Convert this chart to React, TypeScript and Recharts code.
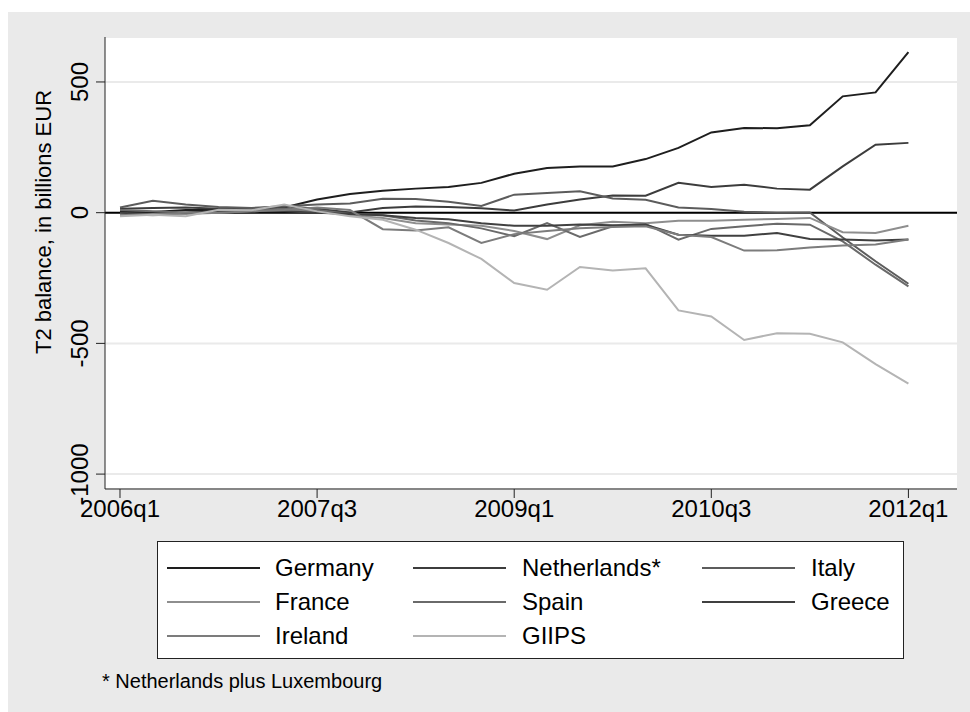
import React from "react";
import { LineChart, Line, XAxis, YAxis, CartesianGrid, ReferenceLine } from "recharts";

const quarters = [
  "2006q1","2006q2","2006q3","2006q4",
  "2007q1","2007q2","2007q3","2007q4",
  "2008q1","2008q2","2008q3","2008q4",
  "2009q1","2009q2","2009q3","2009q4",
  "2010q1","2010q2","2010q3","2010q4",
  "2011q1","2011q2","2011q3","2011q4",
  "2012q1",
];
const xTickIndex = [0, 6, 12, 18, 24];
const yTicks = [-1000, -500, 0, 500];

const germany = [5, 3, 10, 10, 12, 20, 50, 71, 84, 92, 98, 114, 149, 171, 177, 177, 205, 248, 307, 324, 323, 334, 445, 460, 614];
const netherlands = [15, 18, 20, 15, 15, 25, 15, 1, 18, 24, 22, 17, 8, 31, 50, 66, 65, 114, 98, 107, 92, 88, 177, 260, 267];
const italy = [20, 46, 31, 22, 18, 25, 31, 35, 53, 52, 42, 26, 69, 75, 82, 54, 49, 20, 14, 4, 0, 1, -95, -186, -272];
const france = [-5, -10, -5, 0, 5, 10, 5, -10, -20, -40, -45, -50, -70, -101, -48, -35, -40, -31, -31, -27, -24, -20, -75, -78, -50];
const spain = [10, 5, 0, 5, 10, 15, 10, -5, -10, -30, -40, -60, -90, -40, -93, -52, -43, -103, -62, -52, -42, -46, -110, -199, -282];
const greece = [0, -5, 0, 5, 5, 5, 0, -5, -10, -20, -25, -40, -50, -50, -45, -48, -46, -84, -88, -88, -78, -101, -103, -106, -103];
const ireland = [-10, -5, 0, 0, 5, 10, 20, 10, -63, -68, -56, -116, -82, -70, -60, -55, -52, -84, -93, -145, -144, -133, -126, -122, -103];
const giips = [-14, -8, -14, 11, 9, 31, 5, -14, -27, -65, -116, -177, -269, -295, -208, -221, -213, -374, -397, -487, -461, -463, -496, -579, -654];

const seriesNames = ["Germany", "Netherlands*", "Italy", "France", "Spain", "Greece", "Ireland", "GIIPS"];
const seriesValues = [germany, netherlands, italy, france, spain, greece, ireland, giips];
const seriesColors = ["#1e1e1e", "#3c3c3c", "#5c5c5c", "#8e8e8e", "#6a6a6a", "#404040", "#7c7c7c", "#b4b4b4"];

const data = quarters.map((q, i) => {
  const row: Record<string, number | string> = { i, q };
  seriesNames.forEach((n, k) => {
    row[n] = seriesValues[k][i];
  });
  return row;
});

const FONT = "'Liberation Sans', Arial, Helvetica, sans-serif";

const YTick = (props: any) => {
  const { x, y, payload } = props;
  const tx = x + 2;
  return (
    <text
      x={tx}
      y={y}
      transform={`rotate(-90, ${tx}, ${y})`}
      textAnchor="middle"
      fontSize={24}
      fontFamily={FONT}
      fill="#000"
    >
      {payload.value}
    </text>
  );
};

const XTick = (props: any) => {
  const { x, y, payload } = props;
  return (
    <text x={x} y={y + 17} textAnchor="middle" fontSize={24} fontFamily={FONT} fill="#000">
      {quarters[payload.value]}
    </text>
  );
};

const YLabel = () => {
  const cx = 51;
  const cy = 222;
  return (
    <text
      x={cx}
      y={cy}
      transform={`rotate(-90, ${cx}, ${cy})`}
      textAnchor="middle"
      fontSize={22}
      fontFamily={FONT}
      fill="#000"
    >
      T2 balance, in billions EUR
    </text>
  );
};

const legendCols = [
  { lineX: 167, textX: 275 },
  { lineX: 413, textX: 522 },
  { lineX: 702, textX: 811 },
];

export default function App() {
  return (
    <div style={{ position: "absolute", left: 0, top: 0, width: 970, height: 712, background: "#fff", fontFamily: FONT }}>
      <div style={{ position: "absolute", left: 8, top: 12, width: 962, height: 700, background: "#eaeaea" }} />
      <div style={{ position: "absolute", left: 0, top: 0 }}>
        <LineChart width={970} height={712} data={data} margin={{ top: 37, right: 13, bottom: 183, left: 0 }}>
          <CartesianGrid horizontal={true} vertical={false} stroke="#eaeaea" strokeWidth={2} fill="#ffffff" />
          <XAxis
            type="number"
            dataKey="i"
            domain={[-0.4566, 25.479]}
            ticks={xTickIndex}
            allowDataOverflow
            height={40}
            tickSize={9}
            tick={<XTick />}
            stroke="#222"
            tickLine={{ stroke: "#222" }}
          />
          <YAxis
            type="number"
            domain={[-1057, 672]}
            ticks={yTicks}
            allowDataOverflow
            width={105}
            tickSize={9}
            tickMargin={10}
            tick={<YTick />}
            stroke="#222"
            tickLine={{ stroke: "#222" }}
            label={<YLabel />}
          />
          <ReferenceLine y={0} stroke="#000" strokeWidth={2} />
          {seriesNames.map((n, k) => (
            <Line
              key={n}
              type="linear"
              dataKey={n}
              stroke={seriesColors[k]}
              strokeWidth={2}
              dot={false}
              activeDot={false}
              isAnimationActive={false}
            />
          ))}
        </LineChart>
      </div>
      <div
        style={{
          position: "absolute",
          left: 157,
          top: 541,
          width: 747,
          height: 118,
          boxSizing: "border-box",
          background: "#fff",
          border: "1px solid #222",
        }}
      />
      {seriesNames.map((n, k) => {
        const col = legendCols[k % 3];
        const row = Math.floor(k / 3);
        const cy = 568 + row * 34;
        return (
          <React.Fragment key={n}>
            <div style={{ position: "absolute", left: col.lineX, top: cy - 1, width: 93, height: 2, background: seriesColors[k] }} />
            <div
              style={{
                position: "absolute",
                left: col.textX,
                top: cy - 15,
                height: 30,
                lineHeight: "30px",
                fontSize: 24,
                color: "#000",
                whiteSpace: "nowrap",
              }}
            >
              {n}
            </div>
          </React.Fragment>
        );
      })}
      <div style={{ position: "absolute", left: 102, top: 669, fontSize: 20, lineHeight: "24px", color: "#000", whiteSpace: "nowrap" }}>
        * Netherlands plus Luxembourg
      </div>
    </div>
  );
}
